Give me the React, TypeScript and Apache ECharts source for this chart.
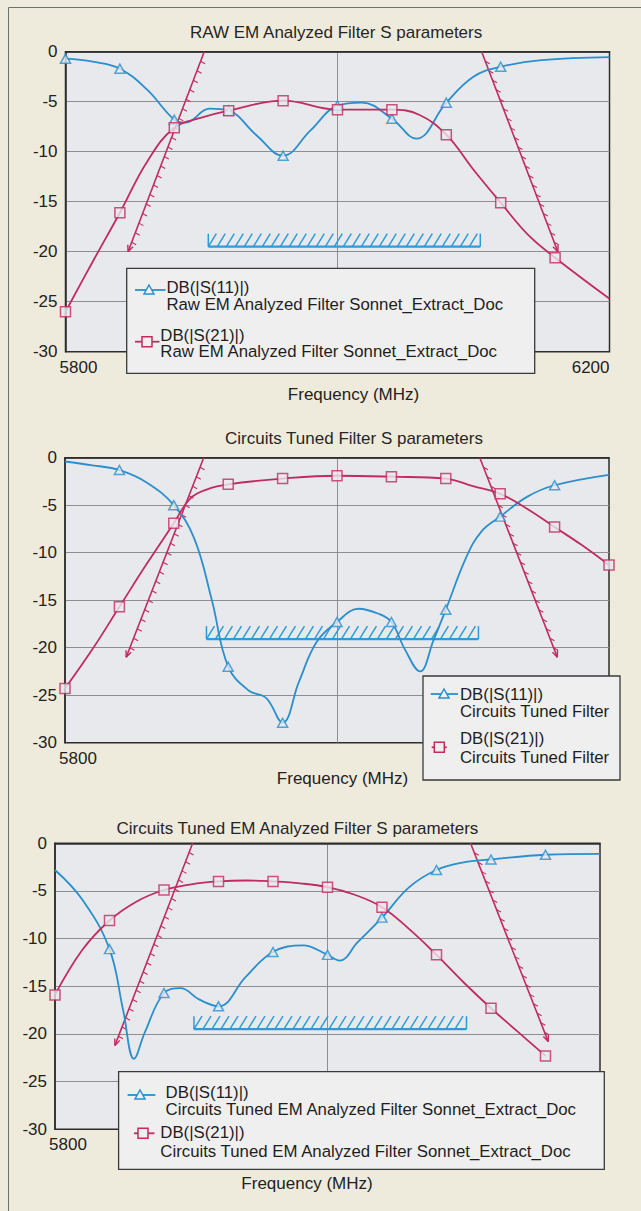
import React, { useEffect, useRef } from "react";
import * as echarts from "echarts";

// ---------------- data ----------------
const CHART_TITLES = [
  "RAW EM Analyzed Filter S parameters",
  "Circuits Tuned Filter S parameters",
  "Circuits Tuned EM Analyzed Filter S parameters",
];
const X_NAME = "Frequency (MHz)";
const S11_LABEL = "DB(|S(11)|)";
const S21_LABEL = "DB(|S(21)|)";
const LEGEND_SOURCES = [
  "Raw EM Analyzed Filter Sonnet_Extract_Doc",
  "Circuits Tuned Filter",
  "Circuits Tuned EM Analyzed Filter Sonnet_Extract_Doc",
];
const FREQ_MIN = 5800;
const FREQ_MAX = 6200;
const FREQ_STEP = 200;
const DB_MIN = -30;
const DB_MAX = 0;
const DB_STEP = 5;
const X_LABELS_SHOWN = [[5800, 6200], [5800], [5800]];

// Chart 1: RAW EM analyzed
const rawS11Curve = [
  [5800, -0.7], [5820, -1.0], [5840, -1.7], [5860, -3.8], [5880, -6.8], [5888, -7.1],
  [5906, -5.7], [5920, -5.9], [5940, -8.3], [5960, -10.4], [5980, -7.9], [6000, -5.4],
  [6018, -5.1], [6040, -6.7], [6058, -8.7], [6080, -5.1], [6100, -2.5], [6120, -1.5],
  [6150, -0.85], [6200, -0.55],
];
const rawS11Marks = [
  [5800, -0.7], [5840, -1.7], [5880, -6.8], [5920, -5.9], [5960, -10.4],
  [6000, -5.4], [6040, -6.7], [6080, -5.1], [6120, -1.5],
];
const rawS21Curve = [
  [5800, -26], [5820, -21], [5840, -16.1], [5860, -11.0], [5880, -7.6], [5900, -6.6],
  [5920, -5.9], [5960, -4.9], [6000, -5.8], [6040, -5.8], [6060, -6.3], [6080, -8.3],
  [6100, -11.8], [6120, -15.1], [6140, -18.3], [6160, -20.6], [6200, -24.7],
];
const rawS21Marks = [
  [5800, -26], [5840, -16.1], [5880, -7.6], [5920, -5.9], [5960, -4.9],
  [6000, -5.8], [6040, -5.8], [6080, -8.3], [6120, -15.1], [6160, -20.6],
];
// spec lines: [f1, dB1, f2, dB2, kind]  kind 0 = rejection mask, 1 = return-loss spec
const rawSpec = [
  [5846, -20, 5902, 0, 0],
  [6106, 0, 6162, -20, 0],
  [5905, -19.5, 6105, -19.5, 1],
];

// Chart 2: Circuits tuned
const cktS11Curve = [
  [5800, -0.4], [5820, -0.8], [5840, -1.3], [5860, -2.6], [5880, -5.0], [5895, -8.5],
  [5908, -15], [5920, -22], [5935, -24.5], [5948, -25.3], [5960, -27.9], [5972, -23.6],
  [5985, -19.4], [6000, -17.3], [6016, -15.9], [6030, -16.4], [6040, -17.3], [6050, -20.2],
  [6061, -22.5], [6071, -19.2], [6080, -16], [6095, -10.5], [6106, -7.8], [6120, -6.2],
  [6140, -4.1], [6160, -2.9], [6200, -1.8],
];
const cktS11Marks = [
  [5840, -1.3], [5880, -5.0], [5920, -22], [5960, -27.9], [6000, -17.3],
  [6040, -17.3], [6080, -16], [6120, -6.2], [6160, -2.9],
];
const cktS21Curve = [
  [5800, -24.3], [5820, -20.2], [5840, -15.7], [5860, -11.2], [5880, -6.9], [5892, -4.3],
  [5905, -3.3], [5920, -2.8], [5960, -2.2], [6000, -1.9], [6040, -2.0], [6080, -2.2],
  [6100, -3.0], [6120, -3.8], [6140, -5.4], [6160, -7.3], [6180, -9.2], [6200, -11.3],
];
const cktS21Marks = [
  [5800, -24.3], [5840, -15.7], [5880, -6.9], [5920, -2.8], [5960, -2.2], [6000, -1.9],
  [6040, -2.0], [6080, -2.2], [6120, -3.8], [6160, -7.3], [6200, -11.3],
];
const cktSpec = [
  [5845, -21, 5902, 0, 0],
  [6105, 0, 6162, -21, 0],
  [5904, -19.1, 6104, -19.1, 1],
];

// Chart 3: Circuits tuned EM analyzed
const cemS11Curve = [
  [5800, -2.8], [5820, -5.9], [5840, -11.1], [5850, -17.5], [5858, -22.6], [5866, -19.8],
  [5880, -15.7], [5892, -15.2], [5906, -16.4], [5920, -17.1], [5940, -14.0], [5960, -11.4],
  [5982, -10.7], [6000, -11.7], [6009, -12.3], [6022, -10.4], [6040, -7.8], [6060, -4.6],
  [6080, -2.8], [6100, -2.0], [6120, -1.7], [6160, -1.2], [6200, -1.1],
];
const cemS11Marks = [
  [5840, -11.1], [5880, -15.7], [5920, -17.1], [5960, -11.4], [6000, -11.7],
  [6040, -7.8], [6080, -2.8], [6120, -1.7], [6160, -1.2],
];
const cemS21Curve = [
  [5800, -15.9], [5820, -11.2], [5840, -8.1], [5860, -6.1], [5880, -4.9], [5900, -4.3],
  [5920, -4.0], [5940, -3.9], [5960, -4.0], [5980, -4.2], [6000, -4.6], [6020, -5.4],
  [6040, -6.7], [6060, -9.0], [6080, -11.7], [6100, -14.6], [6120, -17.3], [6140, -19.8],
  [6160, -22.3],
];
const cemS21Marks = [
  [5800, -15.9], [5840, -8.1], [5880, -4.9], [5920, -4.0], [5960, -4.0],
  [6000, -4.6], [6040, -6.7], [6080, -11.7], [6120, -17.3], [6160, -22.3],
];
const cemSpec = [
  [5844, -21.2, 5901, 0, 0],
  [6105, 0, 6162, -20.8, 0],
  [5902, -19.5, 6102, -19.5, 1],
];

const CHARTS = [
  { s11Curve: rawS11Curve, s11Marks: rawS11Marks, s21Curve: rawS21Curve, s21Marks: rawS21Marks, spec: rawSpec },
  { s11Curve: cktS11Curve, s11Marks: cktS11Marks, s21Curve: cktS21Curve, s21Marks: cktS21Marks, spec: cktSpec },
  { s11Curve: cemS11Curve, s11Marks: cemS11Marks, s21Curve: cemS21Curve, s21Marks: cemS21Marks, spec: cemSpec },
];

// ---------------- styles & layout ----------------
const FONT = "'Liberation Sans', Arial, Helvetica, sans-serif";
const BLUE = "#2a8fcc";
const RED = "#c02c60";
const HATCH = "#2e9bd8";
const PLOT_BG = "#e8e9ed";
const PAGE_BG = "#efebdc";
const LEGEND_BG = "#efeff0";
const TEXT = "#222222";
const GRID_LINE = "#8e8e8e";
const BORDER = "#2e2e2e";

const LAYOUT = [
  {
    grid: { left: 65.5, top: 51.7, width: 544, height: 300 },
    titleLeft: 190, titleTop: 23.5, nameGap: 34.5, namePad: [0, 0, 0, 32],
    legend: {
      box: [126.7, 268.3, 408, 105],
      items: [
        { sym: "tri", lx1: 135, lx2: 165.6, ly: 290, sx: 149, tx: 166.4, ty: [287, 304] },
        { sym: "sq", lx1: 135, lx2: 159.5, ly: 341.7, sx: 147, tx: 160.3, ty: [335, 351.7] },
      ],
    },
  },
  {
    grid: { left: 65, top: 457.7, width: 544, height: 285 },
    titleLeft: 225, titleTop: 429.5, nameGap: 26.8, namePad: [0, 0, 0, 11],
    legend: {
      box: [423, 676, 197, 104],
      items: [
        { sym: "tri", lx1: 430.7, lx2: 458, ly: 694, sx: 444, tx: 460, ty: [694, 711.7] },
        { sym: "sq", lx1: 431.7, lx2: 446.7, ly: 747.3, sx: 439.3, tx: 460, ty: [738, 757] },
      ],
    },
  },
  {
    grid: { left: 55, top: 843.3, width: 545, height: 286 },
    titleLeft: 116.5, titleTop: 819.5, nameGap: 45.5, namePad: [0, 41, 0, 0],
    legend: {
      box: [118.6, 1071.7, 485.7, 97.6],
      items: [
        { sym: "tri", lx1: 127.6, lx2: 155.4, ly: 1095, sx: 140, tx: 165.6, ty: [1092.7, 1109.3] },
        { sym: "sq", lx1: 134, lx2: 154.5, ly: 1133.3, sx: 143, tx: 160.3, ty: [1132.7, 1151] },
      ],
    },
  },
];

function renderSpec(params: any, api: any) {
  const kind = api.value(4);
  const a = api.coord([api.value(0), api.value(1)]);
  const b = api.coord([api.value(2), api.value(3)]);
  const children: any[] = [];
  const seg = (x1: number, y1: number, x2: number, y2: number, stroke: string, lw: number) =>
    children.push({ type: "line", shape: { x1, y1, x2, y2 }, style: { stroke, lineWidth: lw } });
  if (kind === 0) {
    seg(a[0], a[1], b[0], b[1], RED, 1.6);
    const dx = b[0] - a[0];
    const dy = b[1] - a[1];
    const len = Math.hypot(dx, dy);
    const n = Math.round(len / 10);
    for (let i = 1; i < n; i++) {
      const t = i / n;
      const px = a[0] + dx * t;
      const py = a[1] + dy * t;
      seg(px, py, px + 4.5, py + 2.5, RED, 1.1);
    }
    const low = a[1] > b[1] ? a : b;
    const high = low === a ? b : a;
    const ux = (high[0] - low[0]) / len;
    const uy = (high[1] - low[1]) / len;
    [-0.4, 0.4].forEach((ang) => {
      const c = Math.cos(ang);
      const s = Math.sin(ang);
      const rx = ux * c - uy * s;
      const ry = ux * s + uy * c;
      seg(low[0], low[1], low[0] + rx * 7, low[1] + ry * 7, RED, 1.4);
    });
  } else {
    const y = a[1];
    const x1 = Math.min(a[0], b[0]);
    const x2 = Math.max(a[0], b[0]);
    const h = 13;
    seg(x1, y, x2, y, HATCH, 2.2);
    seg(x1, y, x1, y - h, HATCH, 1.5);
    for (let x = x1; x + 8 <= x2 + 0.5; x += 9) seg(x, y, x + 8, y - h, HATCH, 1.5);
    seg(x2, y, x2, y - h, HATCH, 1.5);
  }
  return { type: "group", children };
}

function legendElements(i: number) {
  const L = LAYOUT[i].legend;
  const els: any[] = [];
  els.push({
    type: "rect",
    shape: { x: L.box[0], y: L.box[1], width: L.box[2], height: L.box[3] },
    style: { fill: LEGEND_BG, stroke: "#3a3a3a", lineWidth: 1.3 },
    z: 100,
  });
  L.items.forEach((it, k) => {
    const color = it.sym === "tri" ? BLUE : RED;
    els.push({
      type: "line",
      shape: { x1: it.lx1, y1: it.ly, x2: it.lx2, y2: it.ly },
      style: { stroke: color, lineWidth: 1.8 },
      z: 101,
    });
    if (it.sym === "tri") {
      els.push({
        type: "polygon",
        shape: { points: [[it.sx, it.ly - 5], [it.sx + 5, it.ly + 4], [it.sx - 5, it.ly + 4]] },
        style: { fill: LEGEND_BG, stroke: color, lineWidth: 1.5 },
        z: 102,
      });
    } else {
      els.push({
        type: "rect",
        shape: { x: it.sx - 5, y: it.ly - 5, width: 10, height: 10 },
        style: { fill: LEGEND_BG, stroke: color, lineWidth: 1.5 },
        z: 102,
      });
    }
    const lines = [k === 0 ? S11_LABEL : S21_LABEL, LEGEND_SOURCES[i]];
    lines.forEach((t, j) => {
      els.push({
        type: "text",
        x: it.tx,
        y: it.ty[j],
        style: { text: t, fontSize: 16.8, fontFamily: FONT, fill: "#1e1e1e", align: "left", verticalAlign: "middle" },
        z: 102,
      });
    });
  });
  return els;
}

function buildOption() {
  const xAxis = LAYOUT.map((L, i) => ({
    type: "value",
    gridIndex: i,
    min: FREQ_MIN,
    max: FREQ_MAX,
    interval: FREQ_STEP,
    axisLine: { show: true, lineStyle: { color: BORDER, width: 1.5 } },
    axisTick: { show: false },
    splitLine: { show: true, showMinLine: false, showMaxLine: false, lineStyle: { color: GRID_LINE, width: 1 } },
    axisLabel: {
      margin: 7,
      fontSize: 17,
      fontFamily: FONT,
      color: TEXT,
      alignMaxLabel: "right",
      formatter: (v: number) => {
        if (X_LABELS_SHOWN[i].indexOf(v) < 0) return "";
        if (v === FREQ_MIN) return "{lo|" + v + "}";
        return String(v);
      },
      rich: { lo: { padding: [0, 0, 0, 26], fontSize: 17, fontFamily: FONT, color: TEXT } },
    },
    name: X_NAME,
    nameLocation: "middle",
    nameGap: L.nameGap,
    nameTextStyle: { fontSize: 17, fontFamily: FONT, color: TEXT, padding: L.namePad },
  }));
  const yAxis = LAYOUT.map((L, i) => ({
    type: "value",
    gridIndex: i,
    min: DB_MIN,
    max: DB_MAX,
    interval: DB_STEP,
    axisLine: { show: true, lineStyle: { color: BORDER, width: 1.5 } },
    axisTick: { show: false },
    splitLine: { show: true, showMinLine: false, showMaxLine: false, lineStyle: { color: GRID_LINE, width: 1 } },
    axisLabel: { margin: 8, fontSize: 17, fontFamily: FONT, color: TEXT },
  }));
  const series: any[] = [];
  CHARTS.forEach((c, i) => {
    const src = LEGEND_SOURCES[i];
    series.push({
      type: "custom",
      name: "spec " + (i + 1),
      xAxisIndex: i,
      yAxisIndex: i,
      renderItem: renderSpec,
      data: c.spec,
      encode: { x: [0, 2], y: [1, 3] },
      silent: true,
      z: 1,
    });
    series.push({
      type: "line",
      name: S11_LABEL + " " + src,
      xAxisIndex: i,
      yAxisIndex: i,
      data: c.s11Curve,
      smooth: 0.4,
      showSymbol: false,
      symbol: "none",
      lineStyle: { color: BLUE, width: 1.8 },
      itemStyle: { color: BLUE },
      silent: true,
      z: 3,
    });
    series.push({
      type: "line",
      name: S21_LABEL + " " + src,
      xAxisIndex: i,
      yAxisIndex: i,
      data: c.s21Curve,
      smooth: 0.4,
      showSymbol: false,
      symbol: "none",
      lineStyle: { color: RED, width: 1.8 },
      itemStyle: { color: RED },
      silent: true,
      z: 3,
    });
    series.push({
      type: "scatter",
      name: S11_LABEL + " markers " + (i + 1),
      xAxisIndex: i,
      yAxisIndex: i,
      data: c.s11Marks,
      symbol: "triangle",
      symbolSize: [10, 9],
      itemStyle: { color: PLOT_BG, borderColor: BLUE, borderWidth: 1.5 },
      silent: true,
      z: 4,
    });
    series.push({
      type: "scatter",
      name: S21_LABEL + " markers " + (i + 1),
      xAxisIndex: i,
      yAxisIndex: i,
      data: c.s21Marks,
      symbol: "rect",
      symbolSize: 10,
      itemStyle: { color: PLOT_BG, borderColor: RED, borderWidth: 1.5 },
      silent: true,
      z: 4,
    });
  });

  const graphicEls: any[] = [
    { type: "line", shape: { x1: 8.5, y1: 7.5, x2: 8.5, y2: 1211 }, style: { stroke: "#707070", lineWidth: 1 }, z: 90 },
    { type: "line", shape: { x1: 8.5, y1: 7.5, x2: 641, y2: 7.5 }, style: { stroke: "#707070", lineWidth: 1 }, z: 90 },
  ];
  LAYOUT.forEach((_, i) => graphicEls.push(...legendElements(i)));

  return {
    animation: false,
    backgroundColor: PAGE_BG,
    title: LAYOUT.map((L, i) => ({
      text: CHART_TITLES[i],
      left: L.titleLeft,
      top: L.titleTop,
      padding: 0,
      textStyle: { fontSize: 17, fontWeight: 400, color: "#262626", fontFamily: FONT },
    })),
    grid: LAYOUT.map((L) => ({
      ...L.grid,
      show: true,
      backgroundColor: PLOT_BG,
      borderColor: BORDER,
      borderWidth: 1.5,
      containLabel: false,
    })),
    xAxis,
    yAxis,
    series,
    graphic: { elements: graphicEls },
  };
}

export default function App() {
  const ref = useRef<HTMLDivElement>(null);
  useEffect(() => {
    if (!ref.current) return;
    const chart = echarts.init(ref.current, undefined, { renderer: "svg" });
    chart.setOption(buildOption() as any);
    return () => chart.dispose();
  }, []);
  return (
    <div
      ref={ref}
      style={{ position: "fixed", left: 0, top: 0, width: 641, height: 1211 }}
    />
  );
}
